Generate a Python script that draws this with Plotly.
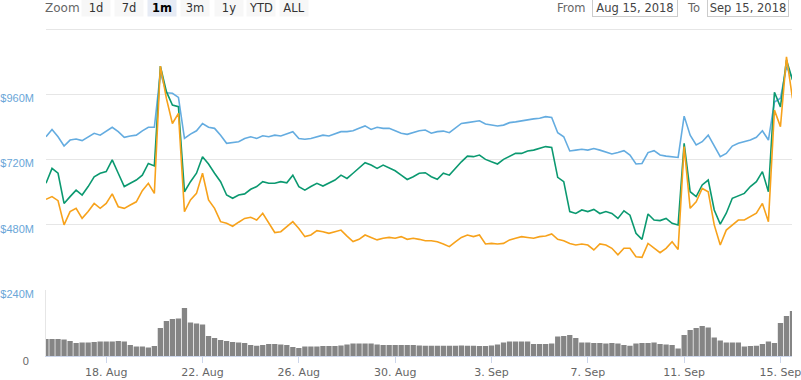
import pandas as pd
import plotly.graph_objects as go

# ---- data (6-hourly samples) ----
dates = pd.date_range("2018-08-15 12:00", periods=125, freq="6h")

market_cap = [804, 831, 804, 770, 792, 796, 790, 804, 817, 810, 826, 839, 823, 802, 807, 810, 826, 839, 839, 1040,
              966, 964, 949, 798, 814, 826, 853, 839, 835, 810, 780, 782, 786, 798, 804, 798, 808, 804, 810, 807,
              814, 823, 798, 795, 798, 804, 810, 807, 814, 823, 823, 826, 835, 844, 831, 839, 835, 835, 826, 817,
              813, 819, 826, 829, 817, 823, 825, 819, 835, 853, 856, 859, 863, 851, 847, 844, 847, 856, 859, 863,
              868, 870, 872, 878, 875, 819, 804, 752, 755, 758, 755, 761, 755, 749, 741, 746, 753, 737, 704, 706,
              746, 753, 737, 733, 731, 728, 880, 810, 774, 786, 810, 770, 731, 743, 770, 780, 786, 792, 802, 826,
              792, 932, 946, 1061, 1019]

price_usd = [633, 688, 670, 559, 584, 608, 590, 621, 657, 670, 676, 719, 670, 621, 633, 645, 663, 706, 697, 1064,
             970, 921, 915, 602, 639, 670, 731, 704, 670, 639, 590, 578, 590, 594, 611, 621, 639, 633, 633, 639,
             635, 663, 621, 608, 621, 633, 623, 635, 645, 663, 651, 670, 688, 709, 700, 688, 700, 688, 679, 663,
             647, 657, 670, 672, 657, 648, 670, 663, 688, 712, 733, 731, 737, 721, 712, 704, 721, 733, 743, 743,
             752, 755, 761, 768, 765, 655, 639, 529, 522, 535, 529, 537, 522, 529, 522, 504, 532, 516, 449, 427,
             520, 498, 496, 504, 486, 480, 780, 602, 584, 627, 645, 535, 483, 523, 578, 586, 596, 621, 639, 676,
             602, 968, 914, 1086, 1013]

price_btc = [574, 584, 569, 480, 529, 541, 504, 529, 559, 541, 559, 594, 547, 541, 553, 565, 606, 633, 596, 1064,
             945, 853, 890, 529, 572, 596, 670, 572, 541, 492, 486, 475, 490, 504, 508, 498, 523, 486, 452, 455,
             474, 492, 467, 437, 443, 459, 455, 449, 455, 461, 439, 419, 427, 443, 434, 425, 431, 434, 431, 437,
             427, 431, 427, 422, 422, 418, 410, 400, 418, 434, 443, 437, 443, 410, 412, 410, 412, 425, 431, 437,
             434, 431, 437, 439, 447, 427, 422, 412, 406, 410, 406, 388, 410, 406, 394, 370, 394, 394, 363, 361,
             412, 394, 378, 394, 418, 390, 768, 541, 565, 614, 602, 480, 406, 461, 480, 498, 498, 510, 523, 559,
             492, 902, 841, 1098, 945]

volume = [17, 17, 17, 16.5, 15, 13, 13.5, 13.5, 14, 14.5, 14.5, 14.5, 15, 14.5, 11, 9.5, 9.5, 8.5, 10, 28,
          35, 37, 37.5, 48, 33.5, 32.5, 31.5, 20, 18, 16, 15, 14, 13.6, 13, 11, 10.3, 11, 12, 12, 11.5,
          11, 9, 8, 9.5, 9.6, 9.6, 10, 10, 10, 10.5, 11.5, 12.5, 12.6, 12.6, 12.5, 11.5, 11, 11, 11, 11,
          11, 11, 10.5, 10.3, 10.3, 10.3, 10.3, 10.3, 10.3, 10.5, 10.3, 10.3, 10, 10, 10.5, 11.5, 13.6, 14.6, 14.6, 14.6,
          14.6, 12, 12, 12, 12.5, 19.6, 20, 21, 18, 13.6, 13.5, 13, 13, 12.5, 13, 12.5, 11, 10.3, 12.5, 13,
          13, 13.6, 12, 11.5, 11, 7.6, 21, 26, 28, 30, 28.6, 18.6, 15.5, 13.6, 13.6, 13.6, 9.6, 10, 10.3, 12,
          14.6, 13, 33, 40, 45]

price_ticks = [240, 480, 720, 960, 1200]
price_tick_text = ["$240M", "$480M", "$720M", "$960M", ""]
x_tick_start = "2018-08-18"
zoom_buttons = ["1d", "7d", "1m", "3m", "1y", "YTD", "ALL"]
active_button = "1m"
from_text = "Aug 15, 2018"
to_text = "Sep 15, 2018"

# ---- layout geometry ----
W, H = 801, 380
L, R, T, B = 46, 9, 28, 24
PW, PH = W - L - R, H - T - B


def px(xp):
    return (xp - L) / PW


def py(yp):
    return (H - B - yp) / PH


split = py(290.2)
FONT = "DejaVu Sans"
YFONT = "Liberation Sans"

fig = go.Figure()
fig.add_trace(go.Bar(x=dates, y=volume, yaxis="y2", name="Volume",
                     marker=dict(color="#858585", line=dict(width=0))))
fig.add_trace(go.Scatter(x=dates, y=market_cap, mode="lines", name="Market Cap",
                         line=dict(color="#64ACE0", width=1.6)))
fig.add_trace(go.Scatter(x=dates, y=price_usd, mode="lines", name="Price (USD)",
                         line=dict(color="#0B9970", width=1.6)))
fig.add_trace(go.Scatter(x=dates, y=price_btc, mode="lines", name="Price (BTC)",
                         line=dict(color="#F7A21B", width=1.6)))

annotations = []
annotations.append(dict(x=px(62), y=py(8), text="Zoom", showarrow=False, xref="paper", yref="paper",
                        xanchor="center", yanchor="middle", font=dict(family=FONT, size=12, color="#666666")))
btn_centers = [96, 128.5, 162, 195, 228.5, 261, 294]
for lab, cx in zip(zoom_buttons, btn_centers):
    act = lab == active_button
    annotations.append(dict(x=px(cx), y=py(8), text=("<b>%s</b>" % lab) if act else lab, showarrow=False,
                            xref="paper", yref="paper", xanchor="center", yanchor="middle",
                            width=28, height=17, borderpad=0,
                            bgcolor="#e6ebf5" if act else "#f7f7f7",
                            font=dict(family=FONT, size=11.5, color="#000000" if act else "#333333")))
annotations.append(dict(x=px(571.5), y=py(8), text="From", showarrow=False, xref="paper", yref="paper",
                        xanchor="center", yanchor="middle", font=dict(family=FONT, size=11.5, color="#666666")))
annotations.append(dict(x=px(634.5), y=py(8), text=from_text, showarrow=False, xref="paper", yref="paper",
                        xanchor="center", yanchor="middle", width=84, height=17, borderpad=0,
                        bordercolor="#cccccc", borderwidth=1, bgcolor="#ffffff",
                        font=dict(family=FONT, size=11.5, color="#444444")))
annotations.append(dict(x=px(693.5), y=py(8), text="To", showarrow=False, xref="paper", yref="paper",
                        xanchor="center", yanchor="middle", font=dict(family=FONT, size=11.5, color="#666666")))
annotations.append(dict(x=px(747.5), y=py(8), text=to_text, showarrow=False, xref="paper", yref="paper",
                        xanchor="center", yanchor="middle", width=80, height=17, borderpad=0,
                        bordercolor="#cccccc", borderwidth=1, bgcolor="#ffffff",
                        font=dict(family=FONT, size=11.5, color="#444444")))

fig.update_layout(
    width=W, height=H,
    margin=dict(l=L, r=R, t=T, b=B, pad=0, autoexpand=False),
    paper_bgcolor="white", plot_bgcolor="white",
    showlegend=False, bargap=0.12,
    font=dict(family=FONT, size=11, color="#666666"),
    xaxis=dict(anchor="y2", range=["2018-08-15 12:00", "2018-09-15 11:30"], automargin=False,
               tick0=x_tick_start, dtick=4 * 86400000, tickformat="%-d. %b",
               ticklabeloverflow="allow",
               showgrid=False, zeroline=False, showline=True, linecolor="#ccd6eb", linewidth=1,
               ticks="outside", ticklen=6, tickcolor="#ccd6eb",
               tickfont=dict(family=FONT, size=11, color="#666666")),
    yaxis=dict(domain=[split, 1], range=[240, 1204], tickmode="array", automargin=False,
               tickvals=price_ticks, ticktext=price_tick_text,
               showgrid=True, gridcolor="#e6e6e6", gridwidth=1, zeroline=False, showline=False,
               ticks="", ticklabelshift=4, ticklabelstandoff=11, ticklabeloverflow="allow",
               tickfont=dict(family=YFONT, size=11, color="#6aa6d8")),
    yaxis2=dict(domain=[0, split], range=[0, 65.8], tickmode="array", tickvals=[0], ticktext=["0"],
                automargin=False,
                showgrid=False, zeroline=False, showline=True, linecolor="#e6e6e6",
                ticks="", ticklabelshift=5, ticklabelstandoff=14, ticklabeloverflow="allow",
                tickfont=dict(family=YFONT, size=11, color="#666666")),
    annotations=annotations,
)

fig.write_html("out.html", config={"displayModeBar": False},
               post_script="document.body.style.margin='0';document.body.style.padding='0';")
